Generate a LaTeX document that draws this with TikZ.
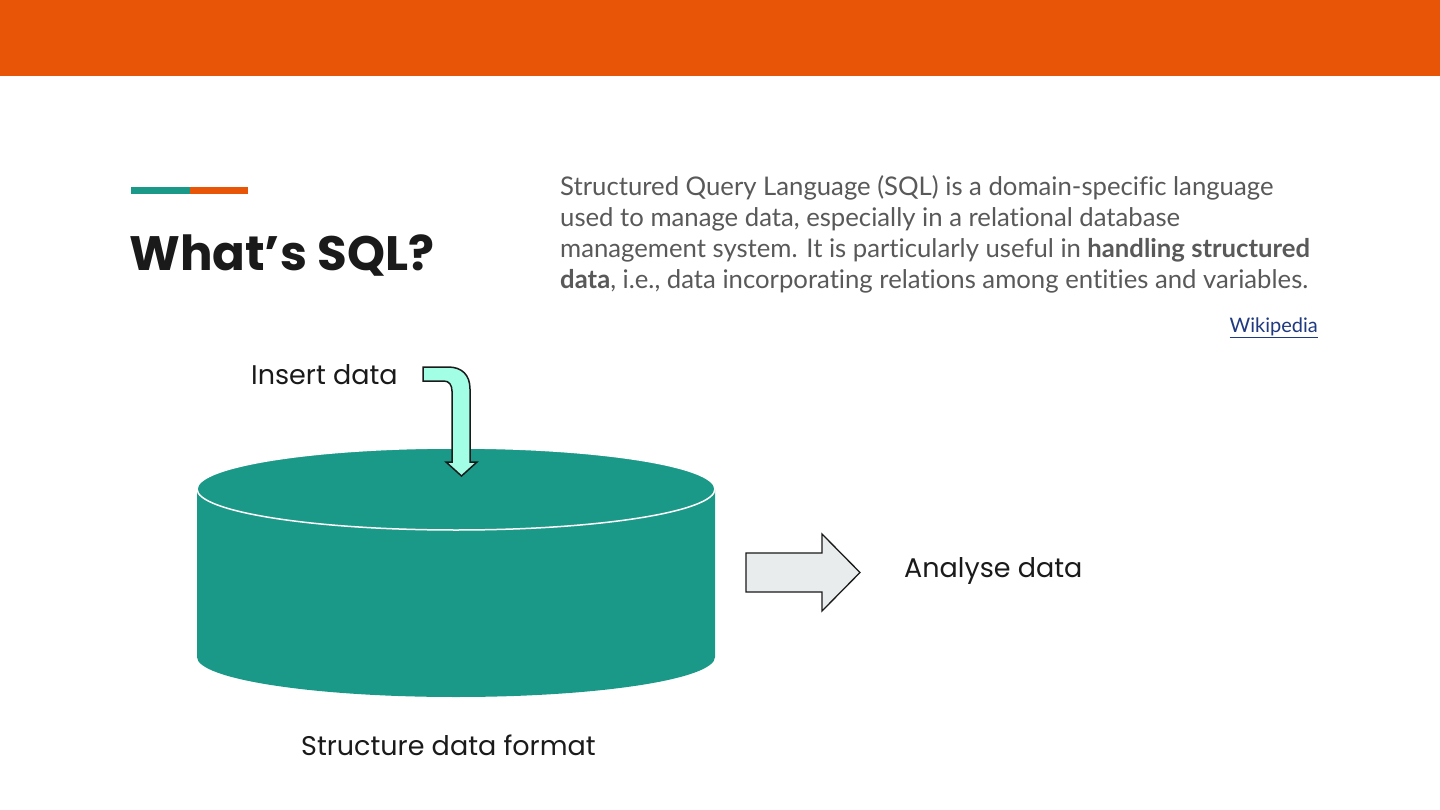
\documentclass[tikz,border=0pt]{standalone}
\usepackage{fontspec}
\setmainfont{Lato}[Ligatures=NoCommon]
\newfontfamily\headfont{Poppins}
\definecolor{barorange}{HTML}{E95506}
\definecolor{dbteal}{HTML}{1A9988}
\definecolor{inaqua}{HTML}{A2FFE6}
\definecolor{outgrey}{HTML}{E8ECEC}
\definecolor{bodygrey}{HTML}{595959}
\definecolor{inkblack}{HTML}{1A1A1A}
\definecolor{linkblue}{HTML}{1F3A80}
\tikzset{
	label text/.style={anchor=base west, inner sep=0pt, text=inkblack, font=\headfont\fontsize{27}{32}\selectfont},
	body text/.style={anchor=base west, inner sep=0pt, text=bodygrey, align=left, font=\fontsize{25.7}{31.2}\selectfont},
}
\begin{document}
\begin{tikzpicture}[x=1pt, y=-1pt]
			\useasboundingbox (0, 0) rectangle (1440, 810);
			\fill[white] (0, 0) rectangle (1440, 810);
			
			% header bar and accent
			\fill[barorange] (0, 0) rectangle (1440, 76);
			\fill[dbteal] (131, 187) rectangle (190, 194);
			\fill[barorange] (190, 187) rectangle (248, 194);
			
			\node[anchor=base west, inner sep=0pt, text=inkblack, font=\headfont\bfseries\fontsize{48.3}{58}\selectfont] (title) at (129, 271) {What’s SQL?};
			
			\node[body text] (intro) at (560, 289) {Structured Query Language (SQL) is a domain-specific language\\used to manage data, especially in a relational database\\management system. It is particularly useful in \textbf{handling structured}\\\textbf{data}, i.e., data incorporating relations among entities and variables.};
			\node[anchor=base east, inner sep=0pt, text=linkblue, font=\fontsize{20}{23}\selectfont] (wiki) at (1318, 332) {\underline{Wikipedia}};
			
			% database cylinder
			\fill[dbteal] (197, 489) -- (197, 657) arc[start angle=180, end angle=0, x radius=259, y radius=40] -- (715, 489) -- cycle;
			\filldraw[fill=dbteal, draw=white, line width=1.5pt] (456, 489) ellipse[x radius=259, y radius=41];
			
			% insert arrow
			\draw[fill=inaqua, draw=inkblack, line width=1.5pt, line join=miter] (423, 367) -- (448, 367) .. controls (462, 367) and (470, 375) .. (470, 389) -- (470, 462) -- (477, 462) -- (461.5, 476) -- (446, 462) -- (452, 462) -- (452, 391) .. controls (452, 385) and (449, 381) .. (444, 381) -- (423, 381) -- cycle;
			
			% output arrow
			\draw[fill=outgrey, draw=inkblack, line width=1.3pt] (746, 553) -- (822, 553) -- (822, 534) -- (860, 572.5) -- (822, 611) -- (822, 592) -- (746, 592) -- cycle;
			
			\node[label text] (insert) at (251, 384) {Insert data};
			\node[label text] (analyse) at (904, 577) {Analyse data};
			\node[label text] (format) at (301, 755) {Structure data format};
		\end{tikzpicture}
\end{document}
